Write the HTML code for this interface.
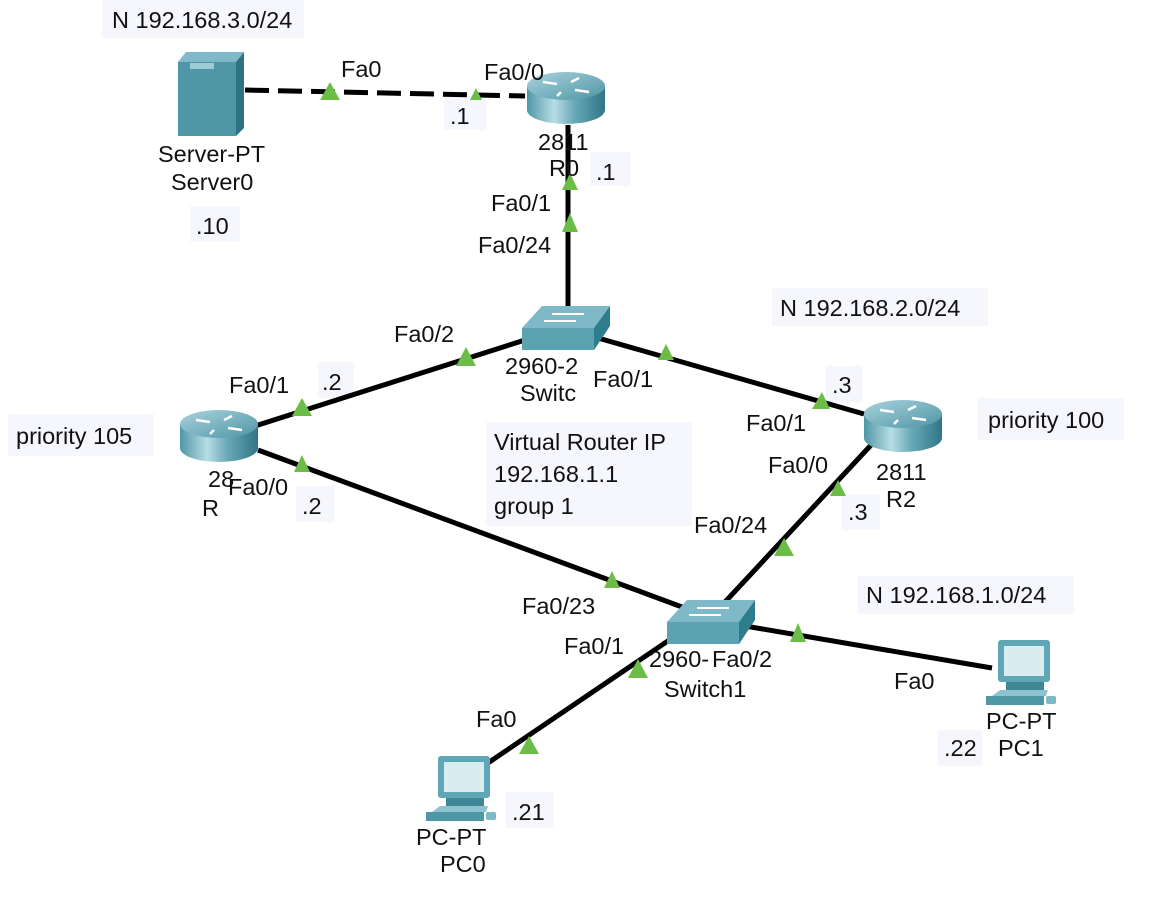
<!DOCTYPE html>
<html><head><meta charset="utf-8"><style>
html,body{margin:0;padding:0;background:#fff;}
svg{display:block}
text{font-family:"Liberation Sans",Arial,sans-serif;font-size:23.5px;fill:#111}
.bg{fill:#f6f7fc}
.tri{fill:#6cbd48}
</style></head><body>
<svg width="1154" height="900" viewBox="0 0 1154 900" xmlns="http://www.w3.org/2000/svg">
<defs>
<linearGradient id="rg" x1="0" x2="1" y1="0" y2="0">
<stop offset="0" stop-color="#4f97a6"/><stop offset="0.35" stop-color="#b7dde5"/><stop offset="0.6" stop-color="#6aaab8"/><stop offset="1" stop-color="#2f7686"/></linearGradient>
<linearGradient id="rt" x1="0" x2="1" y1="0" y2="1">
<stop offset="0" stop-color="#a9d3dd"/><stop offset="1" stop-color="#4f95a5"/></linearGradient>
<g id="router">
<path d="M0,12 L0,36 A39,14 0 0 0 78,36 L78,12 Z" fill="url(#rg)"/>
<ellipse cx="39" cy="12" rx="39" ry="14" fill="url(#rt)"/>
<g stroke="#fff" stroke-width="2.5" fill="none">
<path d="M16,8 L30,10 M52,4 L44,8 M34,18 L30,22 M48,16 L62,18"/>
</g>
</g>
<g id="switch">
<polygon points="0,22 20,0 88,0 72,22" fill="#7fb9c7"/>
<rect x="0" y="22" width="72" height="22" fill="#5ba3b3"/>
<polygon points="72,22 88,0 88,20 72,44" fill="#2e7d8d"/>
<g stroke="#fff" stroke-width="2"><line x1="30" y1="8" x2="62" y2="8"/><line x1="22" y1="15" x2="54" y2="15"/></g>
</g>
<g id="pc">
<rect x="12" y="0" width="52" height="42" rx="3" fill="#5fa6b6"/>
<rect x="18" y="6" width="40" height="30" fill="#d9ecf2"/>
<rect x="20" y="42" width="38" height="8" fill="#3f8797"/>
<polygon points="6,56 14,50 62,50 60,56" fill="#8cc3cf"/>
<rect x="0" y="56" width="58" height="9" fill="#4e97a7"/>
<rect x="60" y="56" width="10" height="8" rx="2" fill="#7fb9c7"/>
</g>
</defs>

<g class="bg">
<rect x="102" y="0" width="202" height="38"/>
<rect x="444" y="96" width="42" height="34"/>
<rect x="590" y="152" width="40" height="34"/>
<rect x="190" y="206" width="50" height="36"/>
<rect x="772" y="288" width="216" height="38"/>
<rect x="318" y="362" width="36" height="36"/>
<rect x="826" y="366" width="36" height="36"/>
<rect x="8" y="414" width="146" height="42"/>
<rect x="978" y="398" width="146" height="42"/>
<rect x="486" y="422" width="206" height="104"/>
<rect x="296" y="486" width="38" height="36"/>
<rect x="842" y="494" width="38" height="36"/>
<rect x="858" y="576" width="216" height="38"/>
<rect x="938" y="730" width="44" height="36"/>
<rect x="506" y="792" width="48" height="36"/>
</g>

<line x1="245" y1="90" x2="525" y2="96" stroke="#000" stroke-width="5" stroke-dasharray="24,9"/>
<line x1="568" y1="125" x2="568" y2="308" stroke="#000" stroke-width="5"/>
<line x1="525" y1="340" x2="255" y2="426" stroke="#000" stroke-width="5"/>
<line x1="598" y1="338" x2="864" y2="414" stroke="#000" stroke-width="5"/>
<line x1="258" y1="450" x2="682" y2="607" stroke="#000" stroke-width="5"/>
<line x1="872" y1="444" x2="725" y2="602" stroke="#000" stroke-width="5"/>
<line x1="745" y1="626" x2="992" y2="668" stroke="#000" stroke-width="5"/>
<line x1="684" y1="630" x2="485" y2="765" stroke="#000" stroke-width="5"/>

<polygon points="178,62 186,52 244,52 236,62" fill="#7fb9c7"/>
<rect x="178" y="62" width="58" height="74" fill="#4f97a7"/>
<polygon points="236,62 244,52 244,128 236,136" fill="#2e7383"/>
<rect x="190" y="63" width="24" height="6" fill="#9ccbd6"/>

<use href="#router" x="527" y="74"/>
<use href="#router" x="180" y="412"/>
<use href="#router" x="864" y="402"/>
<use href="#switch" x="522" y="306"/>
<use href="#switch" x="667" y="600"/>
<use href="#pc" x="426" y="756"/>
<use href="#pc" x="986" y="640"/>

<g class="tri">
<polygon points="330,82 320,100 340,100"/>
<polygon points="476,88 470,100 482,100"/>
<polygon points="570,173 562,190 578,190"/>
<polygon points="570,213 562,232 578,232"/>
<polygon points="466,347 456,366 476,366"/>
<polygon points="302,398 292,416 312,416"/>
<polygon points="666,344 658,360 674,360"/>
<polygon points="822,392 812,409 830,409"/>
<polygon points="302,455 294,472 310,472"/>
<polygon points="612,571 604,588 620,588"/>
<polygon points="784,538 774,556 794,556"/>
<polygon points="838,480 830,496 846,496"/>
<polygon points="798,623 790,642 806,642"/>
<polygon points="638,659 628,678 648,678"/>
<polygon points="529,736 519,754 539,754"/>
</g>

<text x="112" y="28">N 192.168.3.0/24</text>
<text x="341" y="77">Fa0</text>
<text x="484" y="80">Fa0/0</text>
<text x="450" y="124">.1</text>
<text x="538" y="150">2811</text>
<text x="549" y="176">R0</text>
<text x="596" y="180">.1</text>
<text x="158" y="162">Server-PT</text>
<text x="171" y="190">Server0</text>
<text x="196" y="234">.10</text>
<text x="491" y="211">Fa0/1</text>
<text x="478" y="253">Fa0/24</text>
<text x="780" y="316">N 192.168.2.0/24</text>
<text x="394" y="342">Fa0/2</text>
<text x="505" y="374">2960-2</text>
<text x="520" y="401">Switc</text>
<text x="593" y="387">Fa0/1</text>
<text x="229" y="393">Fa0/1</text>
<text x="322" y="390">.2</text>
<text x="832" y="393">.3</text>
<text x="746" y="431">Fa0/1</text>
<text x="16" y="444">priority 105</text>
<text x="988" y="428">priority 100</text>
<text x="494" y="450">Virtual Router IP</text>
<text x="494" y="482">192.168.1.1</text>
<text x="494" y="514">group 1</text>
<text x="768" y="473">Fa0/0</text>
<text x="876" y="480">2811</text>
<text x="886" y="507">R2</text>
<text x="208" y="487">28</text>
<text x="228" y="495">Fa0/0</text>
<text x="202" y="516">R</text>
<text x="302" y="514">.2</text>
<text x="848" y="520">.3</text>
<text x="694" y="533">Fa0/24</text>
<text x="866" y="603">N 192.168.1.0/24</text>
<text x="522" y="614">Fa0/23</text>
<text x="564" y="654">Fa0/1</text>
<text x="649" y="667">2960-</text>
<text x="712" y="667">Fa0/2</text>
<text x="664" y="697">Switch1</text>
<text x="894" y="689">Fa0</text>
<text x="476" y="727">Fa0</text>
<text x="986" y="729">PC-PT</text>
<text x="998" y="756">PC1</text>
<text x="944" y="756">.22</text>
<text x="512" y="820">.21</text>
<text x="416" y="845">PC-PT</text>
<text x="440" y="872">PC0</text>
</svg>
</body></html>
